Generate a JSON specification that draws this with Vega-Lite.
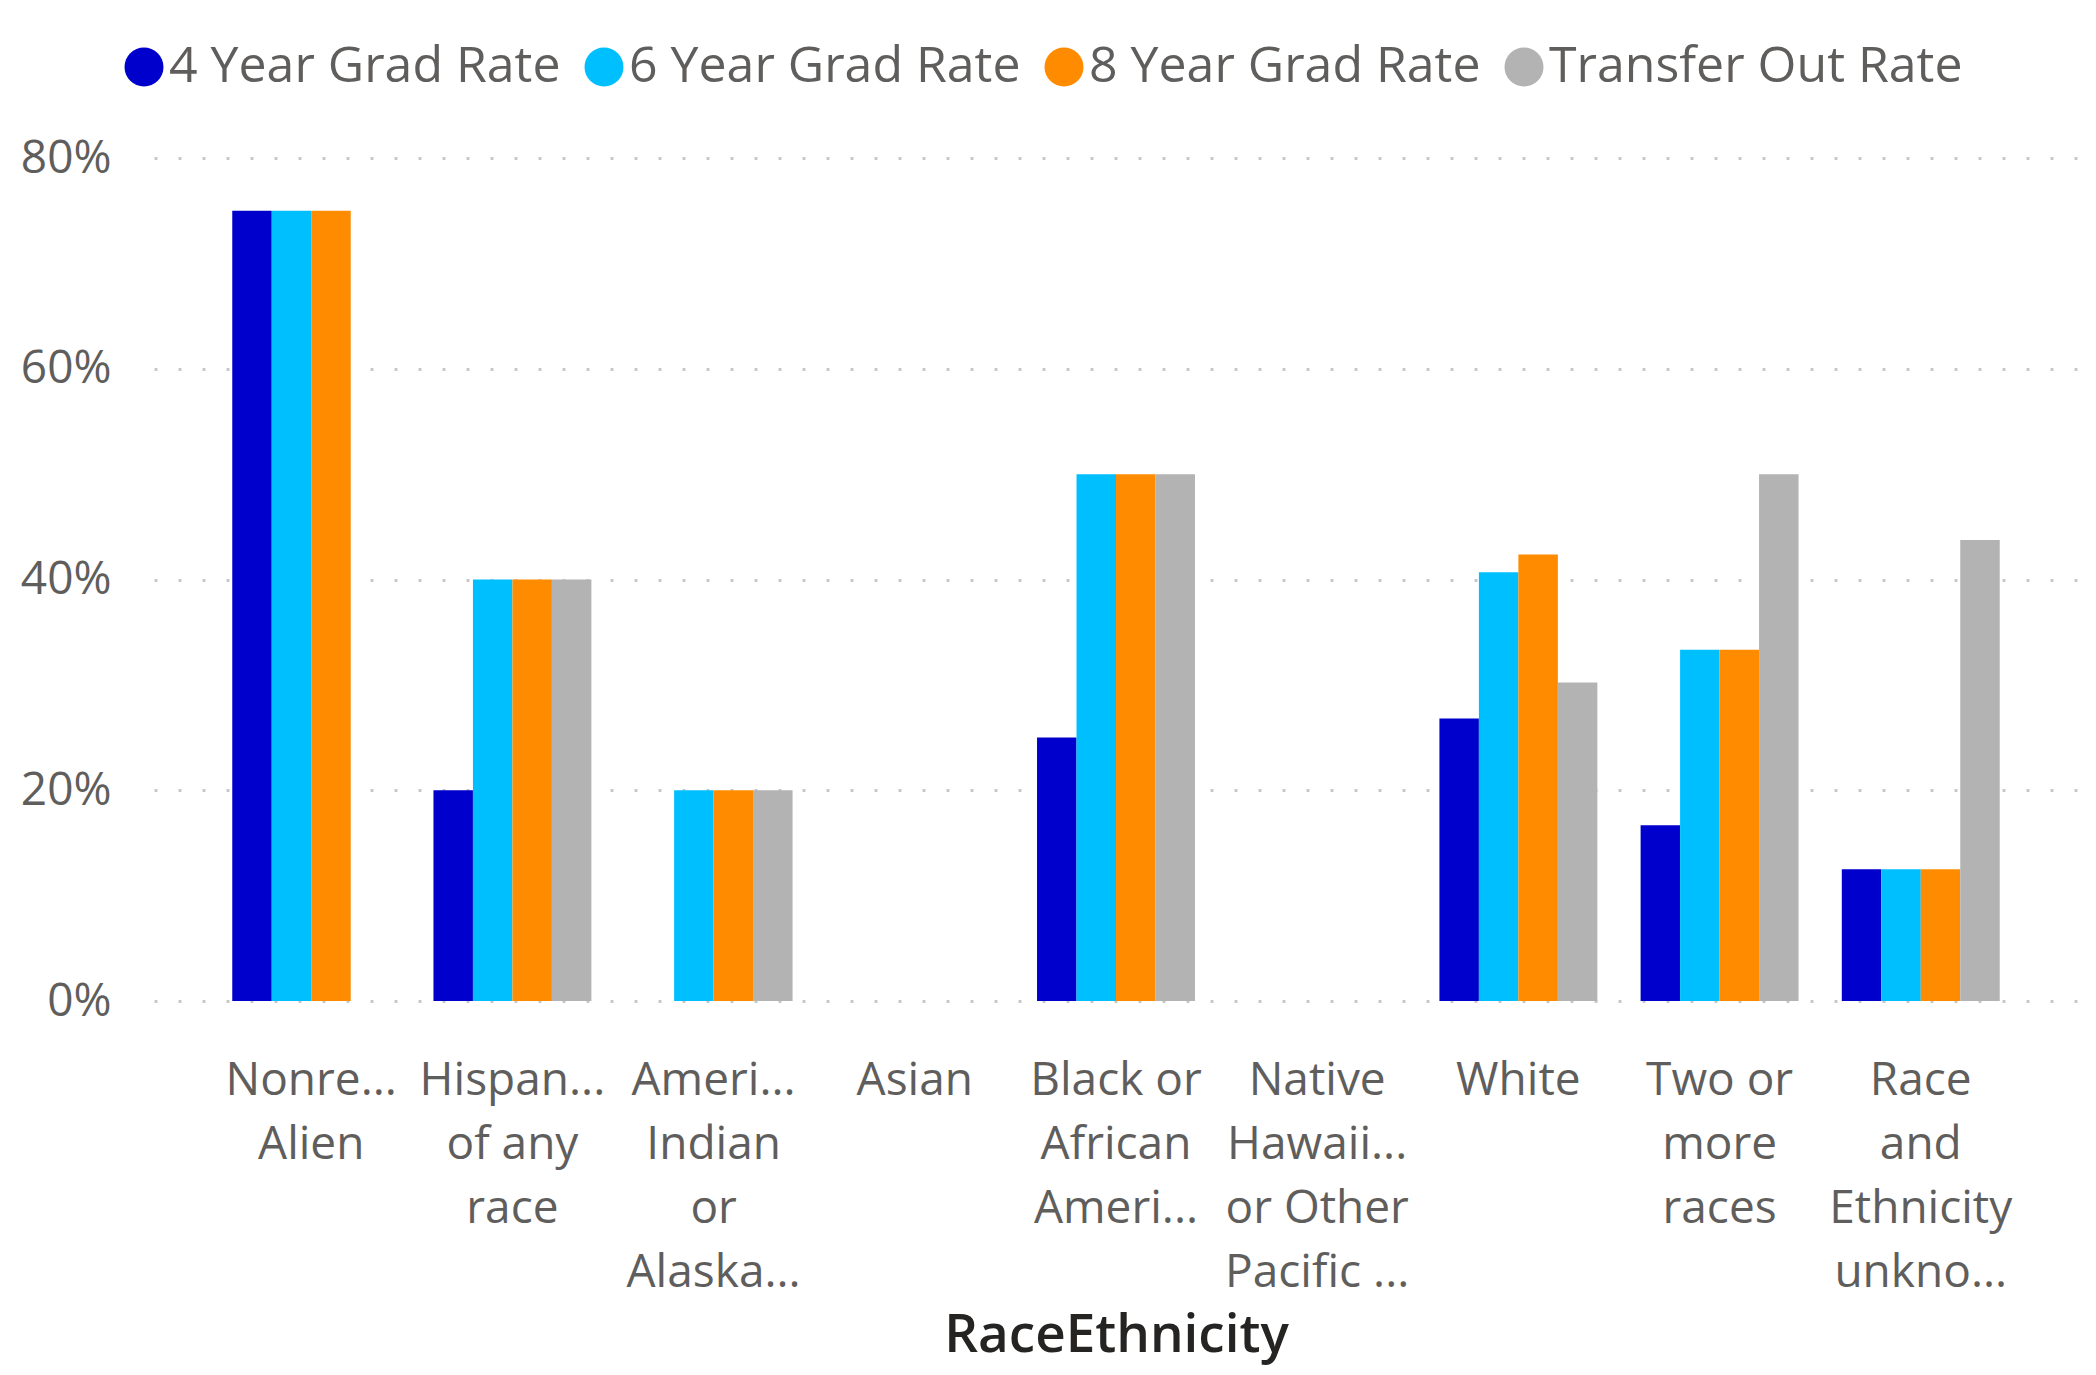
{
  "$schema": "https://vega.github.io/schema/vega-lite/v6.json",
  "autosize": {"type": "none"},
  "padding": {"left": 154, "top": 158, "right": 18, "bottom": 374},
  "width": 1924,
  "height": 843,
  "background": "white",
  "config": {
    "view": {"stroke": null},
    "font": "Open Sans"
  },
  "data": {
    "values": [
      {"RaceEthnicity": "Nonre...|Alien", "Measure": "4 Year Grad Rate", "Rate": 0.75},
      {"RaceEthnicity": "Nonre...|Alien", "Measure": "6 Year Grad Rate", "Rate": 0.75},
      {"RaceEthnicity": "Nonre...|Alien", "Measure": "8 Year Grad Rate", "Rate": 0.75},
      {"RaceEthnicity": "Hispan...|of any|race", "Measure": "4 Year Grad Rate", "Rate": 0.2},
      {"RaceEthnicity": "Hispan...|of any|race", "Measure": "6 Year Grad Rate", "Rate": 0.4},
      {"RaceEthnicity": "Hispan...|of any|race", "Measure": "8 Year Grad Rate", "Rate": 0.4},
      {"RaceEthnicity": "Hispan...|of any|race", "Measure": "Transfer Out Rate", "Rate": 0.4},
      {"RaceEthnicity": "Ameri...|Indian|or|Alaska...", "Measure": "6 Year Grad Rate", "Rate": 0.2},
      {"RaceEthnicity": "Ameri...|Indian|or|Alaska...", "Measure": "8 Year Grad Rate", "Rate": 0.2},
      {"RaceEthnicity": "Ameri...|Indian|or|Alaska...", "Measure": "Transfer Out Rate", "Rate": 0.2},
      {"RaceEthnicity": "Black or|African|Ameri...", "Measure": "4 Year Grad Rate", "Rate": 0.25},
      {"RaceEthnicity": "Black or|African|Ameri...", "Measure": "6 Year Grad Rate", "Rate": 0.5},
      {"RaceEthnicity": "Black or|African|Ameri...", "Measure": "8 Year Grad Rate", "Rate": 0.5},
      {"RaceEthnicity": "Black or|African|Ameri...", "Measure": "Transfer Out Rate", "Rate": 0.5},
      {"RaceEthnicity": "White", "Measure": "4 Year Grad Rate", "Rate": 0.268},
      {"RaceEthnicity": "White", "Measure": "6 Year Grad Rate", "Rate": 0.4068},
      {"RaceEthnicity": "White", "Measure": "8 Year Grad Rate", "Rate": 0.4237},
      {"RaceEthnicity": "White", "Measure": "Transfer Out Rate", "Rate": 0.3023},
      {"RaceEthnicity": "Two or|more|races", "Measure": "4 Year Grad Rate", "Rate": 0.1667},
      {"RaceEthnicity": "Two or|more|races", "Measure": "6 Year Grad Rate", "Rate": 0.3333},
      {"RaceEthnicity": "Two or|more|races", "Measure": "8 Year Grad Rate", "Rate": 0.3333},
      {"RaceEthnicity": "Two or|more|races", "Measure": "Transfer Out Rate", "Rate": 0.5},
      {"RaceEthnicity": "Race|and|Ethnicity|unkno...", "Measure": "4 Year Grad Rate", "Rate": 0.125},
      {"RaceEthnicity": "Race|and|Ethnicity|unkno...", "Measure": "6 Year Grad Rate", "Rate": 0.125},
      {"RaceEthnicity": "Race|and|Ethnicity|unkno...", "Measure": "8 Year Grad Rate", "Rate": 0.125},
      {"RaceEthnicity": "Race|and|Ethnicity|unkno...", "Measure": "Transfer Out Rate", "Rate": 0.4375}
    ]
  },
  "mark": {"type": "bar"},
  "encoding": {
    "x": {
      "field": "RaceEthnicity",
      "type": "nominal",
      "sort": null,
      "scale": {
        "domain": ["Nonre...|Alien", "Hispan...|of any|race", "Ameri...|Indian|or|Alaska...", "Asian", "Black or|African|Ameri...", "Native|Hawaii...|or Other|Pacific ...", "White", "Two or|more|races", "Race|and|Ethnicity|unkno..."],
        "paddingInner": 0.215,
        "paddingOuter": 0.389
      },
      "axis": {
        "title": "RaceEthnicity",
        "labelExpr": "split(datum.label, '|')",
        "labelAngle": 0,
        "labelFontSize": 46,
        "labelLineHeight": 64,
        "labelColor": "#605E5C",
        "labelPadding": 57,
        "labelBaseline": "top",
        "labelOverlap": false,
        "labelLimit": 0,
        "ticks": false,
        "domain": false,
        "grid": false,
        "titleFontSize": 53,
        "titleFontWeight": 600,
        "titleColor": "#252423",
        "titlePadding": 108
      }
    },
    "xOffset": {
      "field": "Measure",
      "type": "nominal",
      "scale": {
        "domain": ["4 Year Grad Rate", "6 Year Grad Rate", "8 Year Grad Rate", "Transfer Out Rate"],
        "paddingInner": 0,
        "paddingOuter": 0
      }
    },
    "y": {
      "field": "Rate",
      "type": "quantitative",
      "scale": {"domain": [0, 0.8], "nice": false},
      "axis": {
        "title": null,
        "values": [0, 0.2, 0.4, 0.6, 0.8],
        "format": ".0%",
        "labelFontSize": 46,
        "labelColor": "#605E5C",
        "labelPadding": 43,
        "ticks": false,
        "domain": false,
        "grid": true,
        "gridColor": "#C8C8C8",
        "gridWidth": 3,
        "gridDash": [3, 21]
      }
    },
    "color": {
      "field": "Measure",
      "type": "nominal",
      "scale": {
        "domain": ["4 Year Grad Rate", "6 Year Grad Rate", "8 Year Grad Rate", "Transfer Out Rate"],
        "range": ["#0000CC", "#00BFFF", "#FF8C00", "#B3B3B3"]
      },
      "legend": {
        "title": null,
        "orient": "none",
        "direction": "horizontal",
        "legendX": -35,
        "legendY": -116,
        "symbolType": "circle",
        "symbolSize": 1520,
        "symbolStrokeWidth": 0,
        "symbolOpacity": 1,
        "labelFontSize": 50,
        "labelColor": "#605E5C",
        "labelOffset": 0,
        "columnPadding": 18,
        "labelLimit": 0
      }
    }
  }
}
